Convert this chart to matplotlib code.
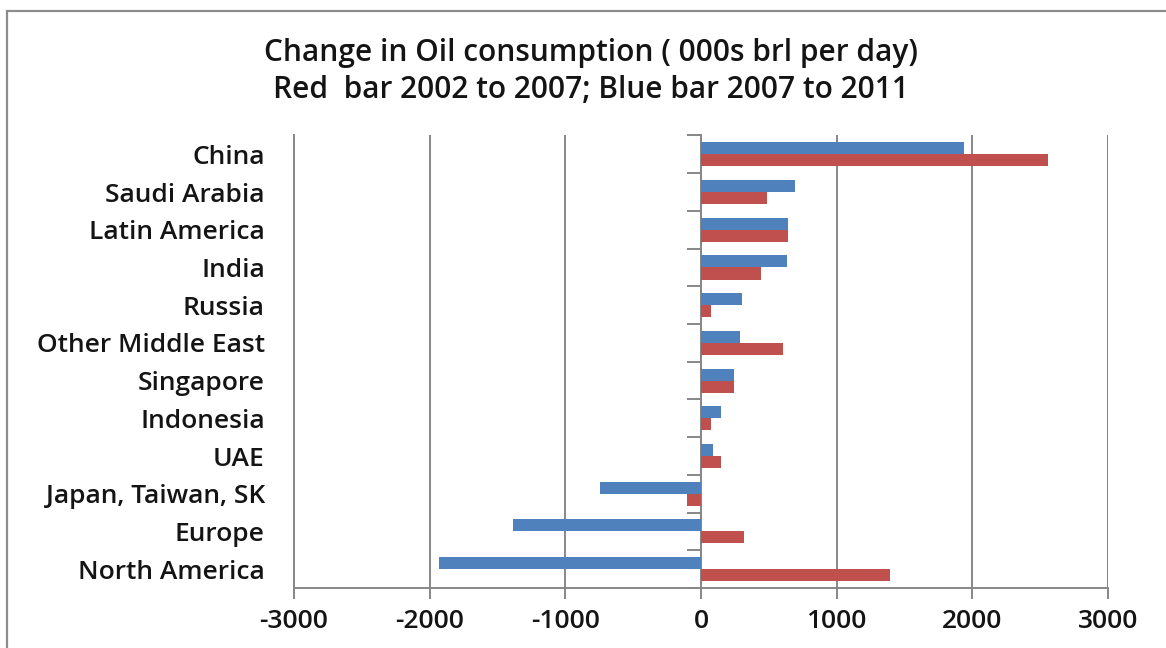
import numpy as np
import matplotlib.pyplot as plt
from matplotlib.patches import Rectangle

plt.rcParams['font.family'] = ['Open Sans', 'DejaVu Sans']
plt.rcParams['font.weight'] = 'semibold'

regions = ['China', 'Saudi Arabia', 'Latin America', 'India', 'Russia',
           'Other Middle East', 'Singapore', 'Indonesia', 'UAE',
           'Japan, Taiwan, SK', 'Europe', 'North America']
# blue bar: 2007 to 2011, red bar: 2002 to 2007
change_07_11 = [1940, 690, 645, 635, 300, 290, 245, 150, 90, -745, -1385, -1930]
change_02_07 = [2555, 485, 645, 445, 75, 605, 245, 75, 150, -105, 320, 1390]
xticks = [-3000, -2000, -1000, 0, 1000, 2000, 3000]

blue = '#4F81BD'
red = '#C0504D'
grey = '#878787'
txt = '#141414'

fig = plt.figure(figsize=(11.66, 6.48), dpi=100)
ax = fig.add_axes([0.2521, 0.0926, 0.6981, 0.6983])

y = np.arange(len(regions))
h = 0.32
ax.barh(y - h / 2, change_07_11, height=h, color=blue, zorder=3)
ax.barh(y + h / 2, change_02_07, height=h, color=red, zorder=3)

ax.set_xlim(-3000, 3000)
ax.set_ylim(len(regions) - 0.5, -0.5)
ax.set_xticks(xticks)
ax.set_xticklabels([str(v) for v in xticks], fontsize=19, color=txt)
ax.set_yticks(y)
ax.set_yticklabels(regions, fontsize=19, color=txt)
ax.tick_params(axis='y', length=0, pad=21)
ax.tick_params(axis='x', direction='out', length=8, width=1.4, color=grey, pad=7)

ax.grid(axis='x', color=grey, linewidth=1.4, zorder=0)
ax.grid(axis='y', visible=False)
for s in ['top', 'right']:
    ax.spines[s].set_visible(False)
for s in ['left', 'bottom']:
    ax.spines[s].set_color(grey)
    ax.spines[s].set_linewidth(1.4)
ax.axvline(3000, color=grey, linewidth=1.4, zorder=0)

# value axis crossing at zero with category tick marks
sec = ax.secondary_yaxis(0.5)
sec.set_yticks(np.arange(len(regions) + 1) - 0.5)
sec.set_yticklabels([])
sec.tick_params(direction='in', length=10, width=1.4, color=grey)
for s in sec.spines.values():
    s.set_color(grey)
    s.set_linewidth(1.4)

fig.text(0.507, 0.918, 'Change in Oil consumption ( 000s brl per day)',
         ha='center', va='center', fontsize=21.5, color=txt)
fig.text(0.507, 0.861, 'Red  bar 2002 to 2007; Blue bar 2007 to 2011',
         ha='center', va='center', fontsize=21.5, color=txt)

# chart frame
fig.patches.append(Rectangle((7 / 1166, -0.1), 1.2, 1.1 - 11 / 648,
                             transform=fig.transFigure, fill=False,
                             edgecolor='#8c8c8c', linewidth=1.6))

fig.savefig('out.png', dpi=100)
